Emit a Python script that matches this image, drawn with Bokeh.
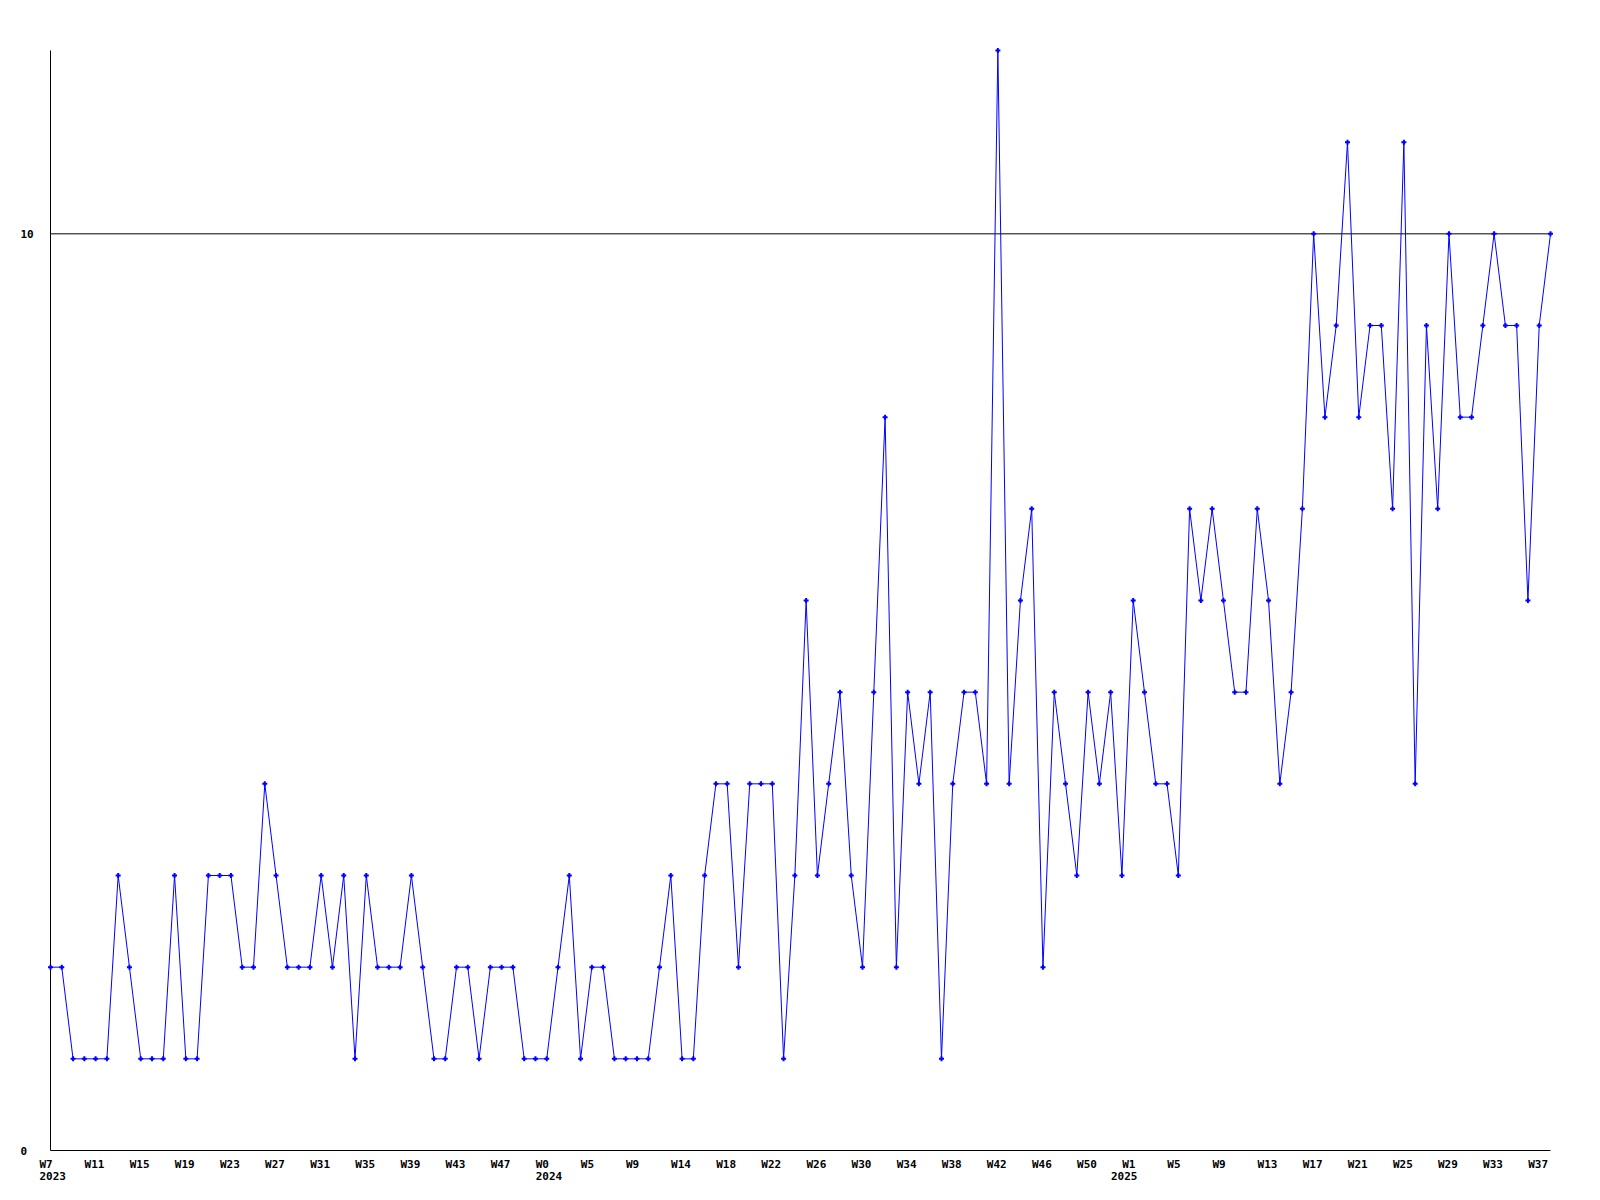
from bokeh.plotting import figure
from bokeh.models import Range1d
from bokeh.core.properties import value
from bokeh.embed import file_html
from bokeh.resources import INLINE

# weekly counts, W7 2023 .. W37 2025
values = [2, 2, 1, 1, 1, 1, 3, 2, 1, 1,
          1, 3, 1, 1, 3, 3, 3, 2, 2, 4,
          3, 2, 2, 2, 3, 2, 3, 1, 3, 2,
          2, 2, 3, 2, 1, 1, 2, 2, 1, 2,
          2, 2, 1, 1, 1, 2, 3, 1, 2, 2,
          1, 1, 1, 1, 2, 3, 1, 1, 3, 4,
          4, 2, 4, 4, 4, 1, 3, 6, 3, 4,
          5, 3, 2, 5, 8, 2, 5, 4, 5, 1,
          4, 5, 5, 4, 12, 4, 6, 7, 2, 5,
          4, 3, 5, 4, 5, 3, 6, 5, 4, 4,
          3, 7, 6, 7, 6, 5, 5, 7, 6, 4,
          5, 7, 10, 8, 9, 11, 8, 9, 9, 7,
          11, 4, 9, 7, 10, 8, 8, 9, 10, 9,
          9, 6, 9, 10]

tick_labels = ["W7", "W11", "W15", "W19", "W23", "W27", "W31", "W35", "W39", "W43", "W47",
               "W0", "W5", "W9", "W14", "W18", "W22", "W26", "W30", "W34", "W38", "W42", "W46", "W50",
               "W1", "W5", "W9", "W13", "W17", "W21", "W25", "W29", "W33", "W37"]
tick_step = 4
year_labels = ["2023", "2024", "2025"]
year_start_index = [0, 44, 95]
y_tick_values = [0, 10]
y_tick_labels = ["0", "10"]
threshold = 10

n = len(values)
x = list(range(n))
tick_idx = [tick_step * k for k in range(len(tick_labels))]
ymax = max(values)

# layout (pixels)
W, H = 1584, 1184
left, top, plot_w, plot_h = 50, 50, 1500, 1100
ppx = plot_w / (n - 1)
ppy = plot_h / ymax

p = figure(frame_width=W, frame_height=H,
           x_range=Range1d(-left / ppx, (W - left) / ppx),
           y_range=Range1d(-(H - top - plot_h) / ppy, ymax + top / ppy),
           output_backend="svg", toolbar_location=None,
           x_axis_location=None, y_axis_location=None,
           min_border=0)
p.outline_line_color = None
p.grid.visible = False

# axes lines and threshold line
p.segment(x0=[0, 0, 0], y0=[0, 0, threshold], x1=[0, n - 1, n - 1], y1=[ymax, 0, threshold],
          line_color="black", line_width=1)

p.line(x, values, line_color="#0000ff", line_width=1)
p.scatter(x, values, marker="cross", size=5, line_color="#0000ff", line_width=2)

font = value("DejaVu Sans Mono")
common = dict(text_font=font, text_font_style="bold", text_font_size="11px", text_color="black")

p.text(x=tick_idx, y=[0] * len(tick_idx), text=tick_labels, x_offset=-11, y_offset=7,
       text_align="left", text_baseline="top", **common)
p.text(x=year_start_index, y=[0] * len(year_start_index), text=year_labels, x_offset=-11, y_offset=21,
       text_align="left", text_baseline="top", **common)
p.text(x=[0] * len(y_tick_values), y=y_tick_values, text=y_tick_labels, x_offset=-30, y_offset=0,
       text_align="left", text_baseline="middle", **common)

open("out.html", "w").write(file_html(p, INLINE))
